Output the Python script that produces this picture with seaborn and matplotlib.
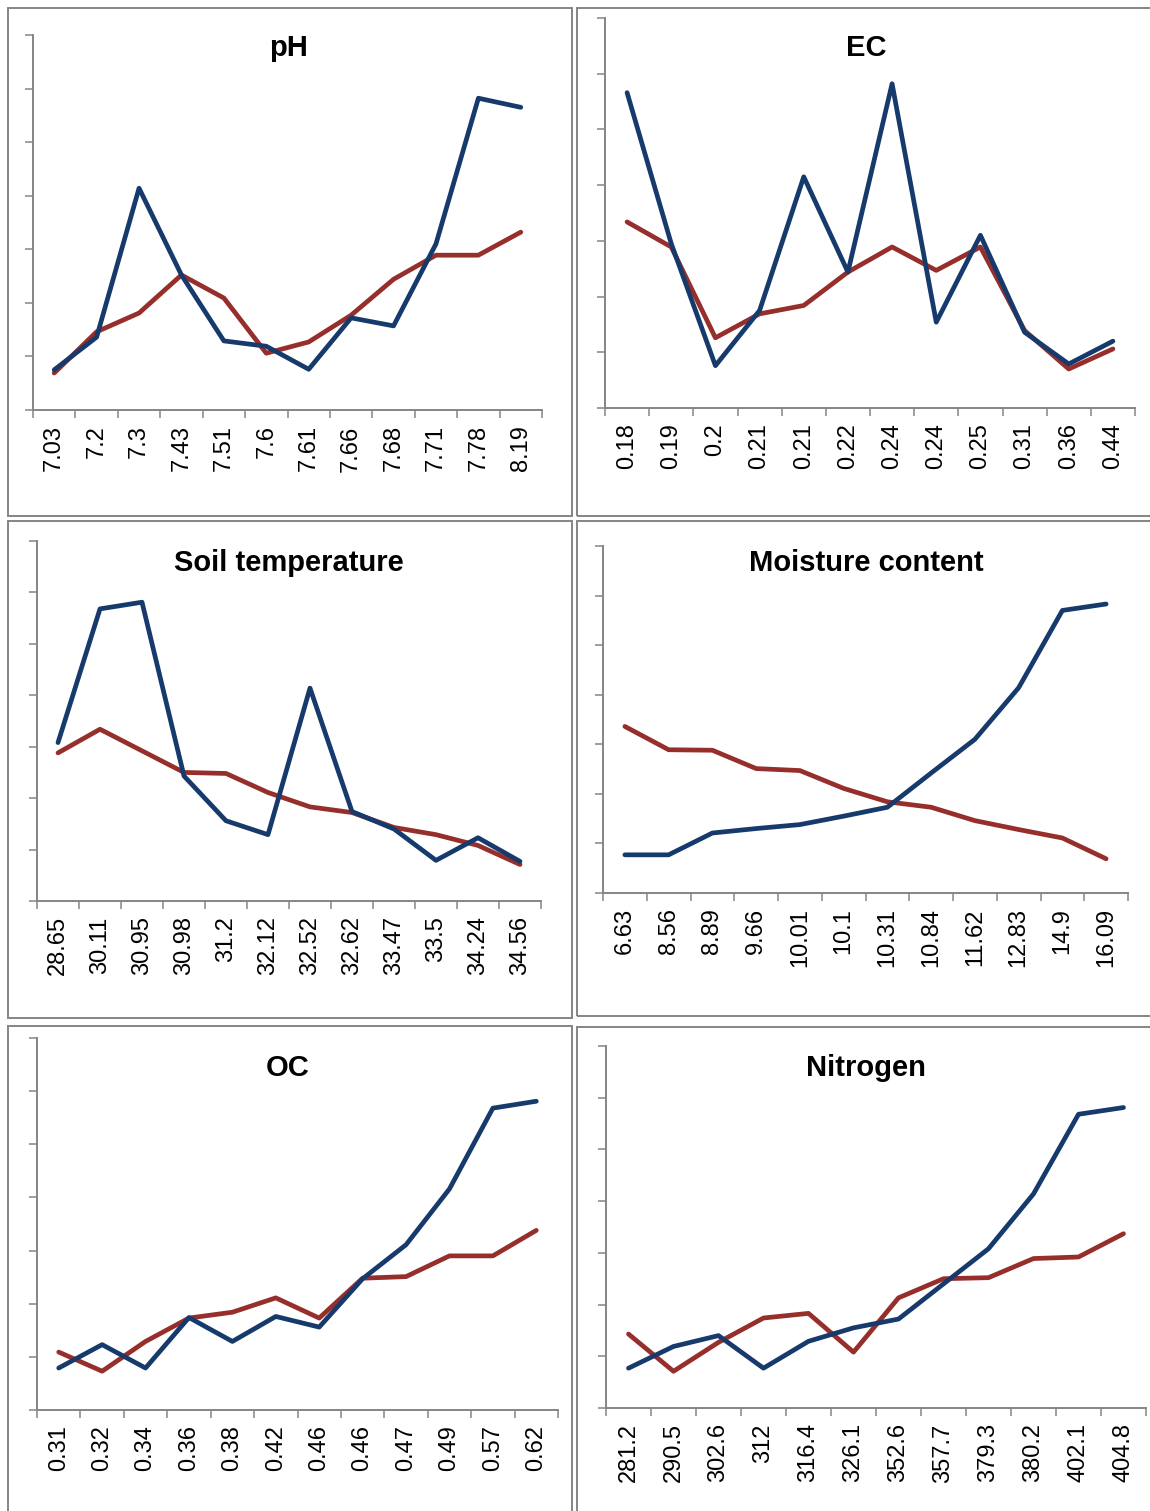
import numpy as np
import pandas as pd
import matplotlib
matplotlib.use('Agg')
import matplotlib.pyplot as plt
from matplotlib.patches import Rectangle
import seaborn as sns

sns.set_style('white')
plt.rcParams['font.family'] = ['Liberation Sans', 'DejaVu Sans']
plt.rcParams['text.color'] = 'black'
plt.rcParams['xtick.labelcolor'] = 'black'

# x categories (as printed under each panel)
ph_labels = ['7.03', '7.2', '7.3', '7.43', '7.51', '7.6', '7.61', '7.66', '7.68', '7.71', '7.78', '8.19']
ec_labels = ['0.18', '0.19', '0.2', '0.21', '0.21', '0.22', '0.24', '0.24', '0.25', '0.31', '0.36', '0.44']
temp_labels = ['28.65', '30.11', '30.95', '30.98', '31.2', '32.12', '32.52', '32.62', '33.47', '33.5', '34.24', '34.56']
moist_labels = ['6.63', '8.56', '8.89', '9.66', '10.01', '10.1', '10.31', '10.84', '11.62', '12.83', '14.9', '16.09']
oc_labels = ['0.31', '0.32', '0.34', '0.36', '0.38', '0.42', '0.46', '0.46', '0.47', '0.49', '0.57', '0.62']
n_labels = ['281.2', '290.5', '302.6', '312', '316.4', '326.1', '352.6', '357.7', '379.3', '380.2', '402.1', '404.8']

ph_blue = [0.75, 1.36, 4.14, 2.52, 1.29, 1.19, 0.76, 1.72, 1.57, 3.10, 5.82, 5.65]
ph_red = [0.69, 1.46, 1.81, 2.52, 2.09, 1.06, 1.27, 1.77, 2.44, 2.89, 2.89, 3.32]
ec_blue = [5.66, 2.95, 0.76, 1.75, 4.15, 2.44, 5.82, 1.54, 3.10, 1.36, 0.79, 1.20]
ec_red = [3.34, 2.89, 1.26, 1.69, 1.84, 2.44, 2.89, 2.47, 2.89, 1.39, 0.70, 1.06]
temp_blue = [3.08, 5.68, 5.81, 2.43, 1.56, 1.29, 4.14, 1.74, 1.40, 0.79, 1.23, 0.77]
temp_red = [2.88, 3.34, 2.92, 2.50, 2.48, 2.11, 1.83, 1.72, 1.43, 1.29, 1.08, 0.71]
moist_blue = [0.77, 0.77, 1.21, 1.30, 1.38, 1.55, 1.73, 2.42, 3.10, 4.14, 5.70, 5.83]
moist_red = [3.36, 2.89, 2.88, 2.51, 2.47, 2.11, 1.84, 1.73, 1.46, 1.28, 1.11, 0.69]
oc_blue = [0.79, 1.23, 0.79, 1.74, 1.29, 1.76, 1.56, 2.47, 3.11, 4.16, 5.68, 5.81]
oc_red = [1.09, 0.73, 1.29, 1.73, 1.84, 2.11, 1.73, 2.48, 2.51, 2.90, 2.90, 3.38]
n_blue = [0.77, 1.19, 1.40, 0.77, 1.29, 1.55, 1.72, 2.40, 3.08, 4.14, 5.68, 5.81]
n_red = [1.43, 0.71, 1.27, 1.74, 1.83, 1.08, 2.13, 2.50, 2.52, 2.89, 2.92, 3.37]

BLUE = '#163a6c'
RED = '#962f2b'
GREY = '#858585'

W, H = 1150, 1511
fig = plt.figure(figsize=(W / 100, H / 100), dpi=100)


def px_rect(x0, y0, x1, y1):
    # pixel box (top-left origin) -> figure fraction
    return [x0 / W, 1 - y1 / H, (x1 - x0) / W, (y1 - y0) / H]


def panel(ax_px, box_px, title, title_xy, labels, blue, red):
    bx = px_rect(*box_px)
    fig.patches.append(Rectangle((bx[0], bx[1]), bx[2], bx[3], transform=fig.transFigure,
                                 fill=False, edgecolor=GREY, linewidth=1.4))
    ax = fig.add_axes(px_rect(*ax_px))
    df = pd.DataFrame({'pos': np.arange(len(labels)), 'blue': blue, 'red': red})
    sns.lineplot(data=df, x='pos', y='red', color=RED, linewidth=3.4, sort=False, ax=ax)
    sns.lineplot(data=df, x='pos', y='blue', color=BLUE, linewidth=3.4, sort=False, ax=ax)
    ax.set_xlim(-0.5, len(labels) - 0.5)
    ax.set_ylim(0, 7)
    ax.set_yticks(range(8))
    ax.set_yticklabels([])
    ax.set_xticks(np.arange(len(labels) + 1) - 0.5)
    ax.set_xticklabels([])
    ax.set_xticks(np.arange(len(labels)), minor=True)
    ax.set_xticklabels(labels, minor=True, rotation=90, fontsize=17)
    ax.tick_params(axis='x', which='major', direction='out', length=6, width=1.1,
                   color=GREY, bottom=True)
    ax.tick_params(axis='x', which='minor', length=0, pad=11, bottom=True)
    ax.tick_params(axis='y', direction='out', length=6, width=1.1, color=GREY, left=True)
    ax.set_xlabel('')
    ax.set_ylabel('')
    for side in ['top', 'right']:
        ax.spines[side].set_visible(False)
    for side in ['left', 'bottom']:
        ax.spines[side].set_color(GREY)
        ax.spines[side].set_linewidth(1.4)
    ax.set_facecolor('none')
    fig.text(title_xy[0] / W, 1 - title_xy[1] / H, title, ha='center', va='center',
             fontsize=21, fontweight='bold', color='black')
    return ax


panel((33, 35, 542, 410), (8, 8, 572, 516), 'pH', (289, 48), ph_labels, ph_blue, ph_red)
panel((605, 18, 1135, 408), (577, 8, 1160, 516), 'EC', (866, 48), ec_labels, ec_blue, ec_red)
panel((37, 541, 541, 901), (8, 521, 572, 1018), 'Soil temperature', (289, 563),
      temp_labels, temp_blue, temp_red)
panel((603, 546, 1128, 893), (577, 521, 1160, 1016), 'Moisture content', (866, 563),
      moist_labels, moist_blue, moist_red)
panel((37, 1038, 558, 1410), (8, 1026, 572, 1520), 'OC', (288, 1068), oc_labels, oc_blue, oc_red)
panel((606, 1046, 1146, 1408), (577, 1027, 1160, 1520), 'Nitrogen', (866, 1068),
      n_labels, n_blue, n_red)

fig.savefig('out.png', dpi=100, facecolor='white')
